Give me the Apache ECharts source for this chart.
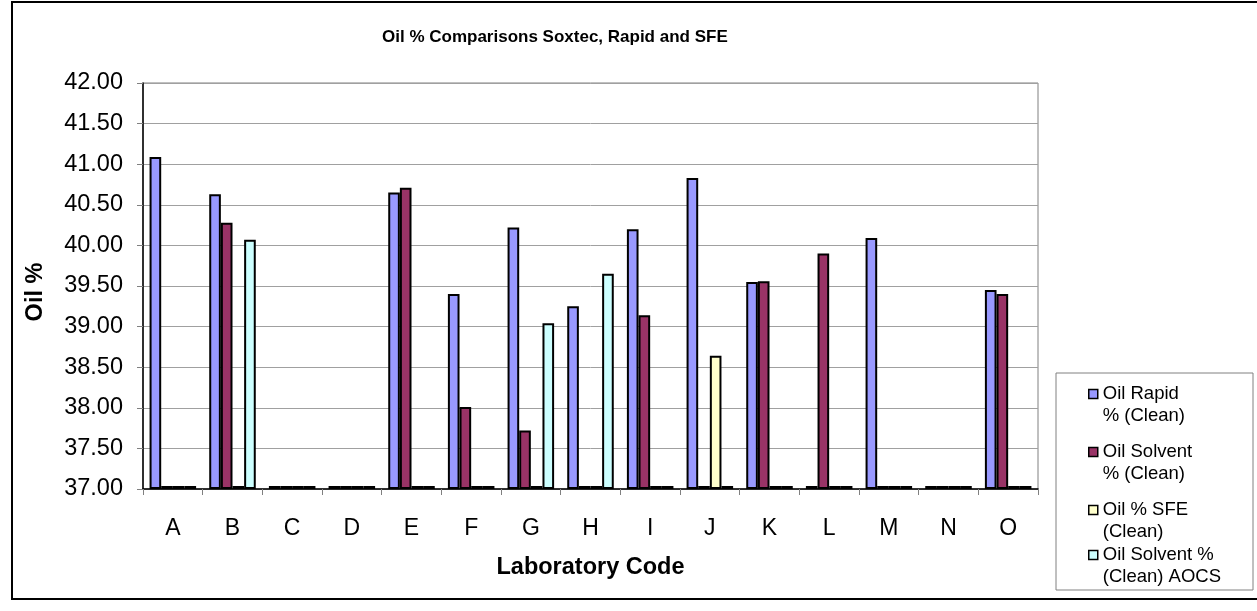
<!DOCTYPE html>
<html>
<head>
<meta charset="utf-8">
<script src="https://cdn.jsdelivr.net/npm/echarts@6/dist/echarts.min.js"></script>
<style>
  html, body { margin: 0; padding: 0; background: #fff; }
  #main { width: 1257px; height: 611px; }
</style>
</head>
<body>
<div id="main"></div>
<script>
// 数据
var labCodes = ['A', 'B', 'C', 'D', 'E', 'F', 'G', 'H', 'I', 'J', 'K', 'L', 'M', 'N', 'O'];
var yTicks = [37, 37.5, 38, 38.5, 39, 39.5, 40, 40.5, 41, 41.5, 42];
// 0 = 没有数据（画在37.00的底线上）
var oilRapid   = [41.09, 40.63, 0, 0, 40.65, 39.40, 40.22, 39.25, 40.20, 40.83, 39.55, 0, 40.09, 0, 39.45];
var oilSolvent = [0, 40.28, 0, 0, 40.71, 38.01, 37.72, 0, 39.14, 0, 39.56, 39.90, 0, 0, 39.40];
var oilSFE     = [0, 0, 0, 0, 0, 0, 0, 0, 0, 38.64, 0, 0, 0, 0, 0];
var oilAOCS    = [0, 40.07, 0, 0, 0, 0, 39.04, 39.65, 0, 0, 0, 0, 0, 0, 0];

var seriesNames = ['Oil Rapid\n% (Clean)', 'Oil Solvent\n% (Clean)', 'Oil % SFE\n(Clean)', 'Oil Solvent %\n(Clean) AOCS'];
var seriesColors = ['#9999FF', '#993366', '#FFFFCC', '#CCFFFF'];
var seriesData = [oilRapid, oilSolvent, oilSFE, oilAOCS];

var yMin = yTicks[0];
var yMax = yTicks[yTicks.length - 1];

var myChart = echarts.init(document.getElementById('main'));

// 低于坐标最小值的值画成底线上的扁柱（和Excel一样）
function toBase(arr) {
	return arr.map(function(v) { return v < yMin ? yMin : v; });
}

var series = [];
for (var i = 0; i < seriesNames.length; i++) {
	series.push({
		name : seriesNames[i],
		type : 'bar',
		data : toBase(seriesData[i]),
		barGap : '0%',
		barCategoryGap : '22%',
		barMinHeight : 3,
		itemStyle : {
			color : seriesColors[i],
			borderColor : '#000',
			borderWidth : 2
		},
		emphasis : { disabled : true }
	});
}

// 图例公用样式
function legendItems(idx) {
	return idx.map(function(k) {
		return { name : seriesNames[k], itemStyle : { color : seriesColors[k], borderColor : '#000', borderWidth : 1.5 } };
	});
}
var legendBase = {
	orient : 'vertical',
	left : 1088,
	itemWidth : 9,
	itemHeight : 9,
	itemGap : -8,
	icon : 'rect',
	padding : 0,
	selectedMode : false,
	// 加一个空行，让图标对齐第一行文字
	formatter : function(name) { return '\n' + name; },
	textStyle : { fontSize : 18.5, lineHeight : 22, color : '#000' }
};

var option = {
	animation : false,
	textStyle : { fontFamily : 'Liberation Sans, Arial, sans-serif' },
	title : {
		text : 'Oil % Comparisons Soxtec, Rapid and SFE',
		left : 382,
		top : 29,
		padding : 0,
		textStyle : { fontSize : 17, fontWeight : 'bold', color : '#000' }
	},
	grid : {
		left : 143,
		right : 219,
		top : 83,
		bottom : 122,
		show : true,
		borderColor : '#808080',
		borderWidth : 1,
		containLabel : false
	},
	legend : [
		echarts.util.extend({ top : 361, data : legendItems([0, 1, 2]) }, legendBase),
		echarts.util.extend({ top : 522, data : legendItems([3]) }, legendBase)
	],
	xAxis : {
		type : 'category',
		data : labCodes,
		name : 'Laboratory Code',
		nameLocation : 'middle',
		nameGap : 67,
		nameTextStyle : { fontSize : 23.5, fontWeight : 'bold', color : '#000' },
		axisLine : { lineStyle : { color : '#000', width : 1.5 } },
		axisTick : { show : true, length : 6, lineStyle : { color : '#808080' } },
		axisLabel : { fontSize : 23, color : '#000', margin : 28 }
	},
	yAxis : {
		type : 'value',
		min : yMin,
		max : yMax,
		startValue : yMin, // 柱子从37.00开始画
		interval : 0.5,
		name : 'Oil %',
		nameLocation : 'middle',
		nameGap : 95,
		nameRotate : 90,
		nameTextStyle : { fontSize : 23.5, fontWeight : 'bold', color : '#000', padding : [0, 12, 0, 0] },
		axisLine : { show : true, lineStyle : { color : '#000', width : 1.5 } },
		axisTick : { show : true, length : 6, lineStyle : { color : '#808080' } },
		axisLabel : {
			fontSize : 23.5,
			color : '#000',
			margin : 20,
			formatter : function(v) { return v.toFixed(2); }
		},
		splitLine : { lineStyle : { color : '#A0A0A0', width : 1 } }
	},
	graphic : [
		{ // 外框
			type : 'rect',
			shape : { x : 12, y : 2, width : 1260, height : 597 },
			style : { fill : 'none', stroke : '#000', lineWidth : 2 },
			silent : true,
			z : -10
		},
		{ // 图例框
			type : 'rect',
			shape : { x : 1056, y : 373, width : 197, height : 217 },
			style : { fill : 'none', stroke : '#808080', lineWidth : 1 },
			silent : true,
			z : -5
		}
	],
	series : series
};

myChart.setOption(option);
</script>
</body>
</html>
